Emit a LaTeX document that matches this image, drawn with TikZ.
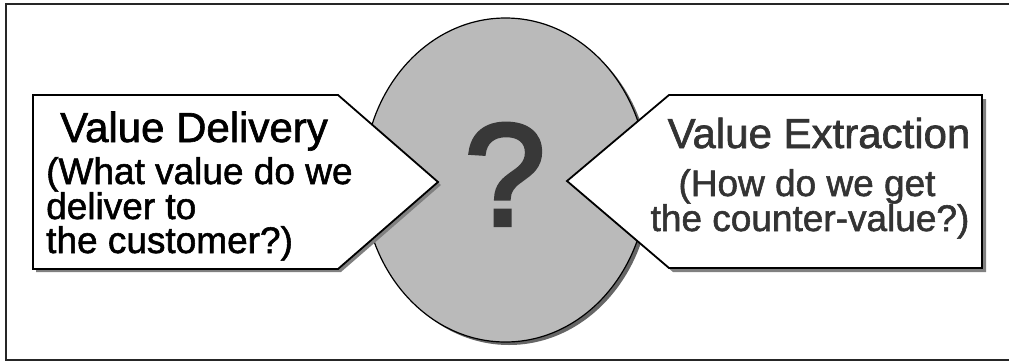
\documentclass[tikz,border=0pt]{standalone}
\usepackage{fontspec}
\setmainfont{Liberation Sans}
\newfontfamily\heavyfont[FakeBold=1.5]{Liberation Sans}
\newfontfamily\qfont[FakeBold=3]{Liberation Sans}
\begin{document}
\begin{tikzpicture}[x=1pt,y=-1pt,
  frameline/.style={draw=black!85, line width=1.2pt},
  boxline/.style={draw=black, line width=1.8pt, fill=white, line join=miter},
  boxshadow/.style={fill=black!50, draw=none},
  ttl/.style={font=\heavyfont\fontsize{42}{42}\selectfont, inner sep=0pt, text height=30pt, text depth=8pt},
  sub/.style={font=\heavyfont\fontsize{37}{37}\selectfont, inner sep=0pt, text height=26pt, text depth=6pt},
  qmark/.style={font=\qfont\fontsize{145}{145}\selectfont, inner sep=0pt, text=black!78}]
\useasboundingbox (0,0) rectangle (1009,362);
% frame
\draw[frameline] (1009,4) -- (6,4) -- (6,360) -- (1009,360);
% central ellipse with shadow
\fill[black!60] (509,183) ellipse [x radius=142, y radius=162];
\filldraw[fill=black!27, draw=black, line width=1.2pt] (505.5,180) ellipse [x radius=142, y radius=162];
\node[qmark, anchor=base] (q) at (505,225) {?};
% left arrow box
\fill[boxshadow, shift={(3,3)}] (33,95) -- (338,95) -- (438,182) -- (338,269) -- (33,269) -- cycle;
\draw[boxline] (33,95) -- (338,95) -- (438,182) -- (338,269) -- (33,269) -- cycle;
% right arrow box
\fill[boxshadow, shift={(4,4)}] (567,181) -- (669,95) -- (982,95) -- (982,268) -- (669,268) -- cycle;
\draw[boxline] (567,181) -- (669,95) -- (982,95) -- (982,268) -- (669,268) -- cycle;
% left texts
\node[ttl, anchor=base west] (lt) at (60,142) {Value Delivery};
\node[sub, anchor=base west] (l1) at (46,184) {(What value do we};
\node[sub, anchor=base west] (l2) at (46,219) {deliver to};
\node[sub, anchor=base west] (l3) at (46,253) {the customer?)};
% right texts
\node[ttl, anchor=base, text=black!80] (rt) at (819,148) {Value Extraction};
\node[sub, anchor=base, text=black!80] (r1) at (807,196) {(How do we get};
\node[sub, anchor=base, text=black!80] (r2) at (810,231) {the counter-value?)};
\end{tikzpicture}
\end{document}
